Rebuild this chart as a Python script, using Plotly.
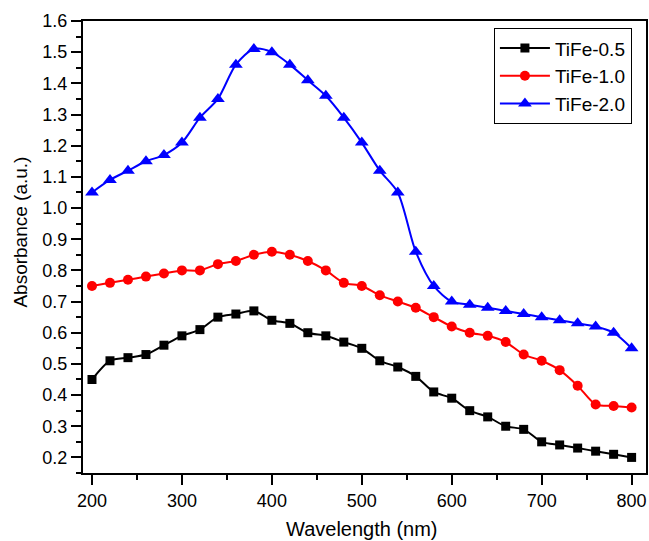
import plotly.graph_objects as go

# Wavelength grid (nm)
wavelength = list(range(200, 801, 20))

# Absorbance (a.u.) for each sample
tife_05 = [0.45, 0.51, 0.52, 0.53, 0.56, 0.59, 0.61, 0.65, 0.66, 0.67,
           0.64, 0.63, 0.60, 0.59, 0.57, 0.55, 0.51, 0.49, 0.46, 0.41,
           0.39, 0.35, 0.33, 0.30, 0.29, 0.25, 0.24, 0.23, 0.22, 0.21, 0.20]
tife_10 = [0.75, 0.76, 0.77, 0.78, 0.79, 0.80, 0.80, 0.82, 0.83, 0.85,
           0.86, 0.85, 0.83, 0.80, 0.76, 0.75, 0.72, 0.70, 0.68, 0.65,
           0.62, 0.60, 0.59, 0.57, 0.53, 0.51, 0.48, 0.43, 0.37, 0.365, 0.36]
tife_20 = [1.05, 1.09, 1.12, 1.15, 1.17, 1.21, 1.29, 1.35, 1.46, 1.51,
           1.50, 1.46, 1.41, 1.36, 1.29, 1.21, 1.12, 1.05, 0.86, 0.75,
           0.70, 0.69, 0.68, 0.67, 0.66, 0.65, 0.64, 0.63, 0.62, 0.60, 0.55]

series = [
    ("TiFe-0.5", tife_05, "black", "square", 9),
    ("TiFe-1.0", tife_10, "red", "circle", 10),
    ("TiFe-2.0", tife_20, "blue", "triangle-up", 12),
]

fig = go.Figure()
for name, vals, color, symbol, size in series:
    fig.add_trace(go.Scatter(
        x=wavelength, y=vals, name=name, mode="lines+markers",
        line=dict(color=color, width=2, shape="spline", smoothing=0.8),
        marker=dict(color=color, symbol=symbol, size=size),
    ))

font_family = "Liberation Sans, Arial, sans-serif"
axis_common = dict(
    showline=True, linecolor="black", linewidth=2, mirror=True,
    ticks="outside", tickcolor="black", tickwidth=2, ticklen=10,
    showgrid=False, zeroline=False, automargin=False,
    tickfont=dict(family=font_family, size=18, color="black"),
)

fig.update_xaxes(
    range=[190, 816], tickmode="array", tickvals=list(range(200, 801, 100)),
    minor=dict(tickvals=list(range(250, 800, 100)), ticks="outside",
               ticklen=5, tickwidth=2, tickcolor="black"),
    **axis_common,
)
fig.update_yaxes(
    range=[0.15, 1.6], tickmode="array",
    tickvals=[round(0.2 + 0.1 * k, 1) for k in range(15)],
    tickformat=".1f",
    minor=dict(tickvals=[round(0.15 + 0.1 * k, 2) for k in range(15)],
               ticks="outside", ticklen=5, tickwidth=2, tickcolor="black"),
    **axis_common,
)

# Axis labels drawn as annotations for precise placement
fig.add_annotation(
    text="Wavelength (nm)", showarrow=False,
    xref="paper", yref="paper", x=0.4956, y=-0.096,
    xanchor="center", yanchor="top",
    font=dict(family=font_family, size=20, color="black"),
)
fig.add_annotation(
    text="Absorbance (a.u.)", textangle=-90, showarrow=False,
    xref="paper", yref="paper", x=-0.111, y=0.533,
    xanchor="center", yanchor="middle",
    font=dict(family=font_family, size=19, color="black"),
)

fig.update_layout(
    width=649, height=541,
    margin=dict(l=83, r=3, t=21, b=68),
    paper_bgcolor="white", plot_bgcolor="white",
    font=dict(family=font_family, size=18, color="black"),
    legend=dict(
        x=0.975, y=0.984, xanchor="right", yanchor="top",
        bordercolor="black", borderwidth=1, bgcolor="white",
        itemwidth=50,
        font=dict(family=font_family, size=19, color="black"),
    ),
)

fig.write_html("out.html")
